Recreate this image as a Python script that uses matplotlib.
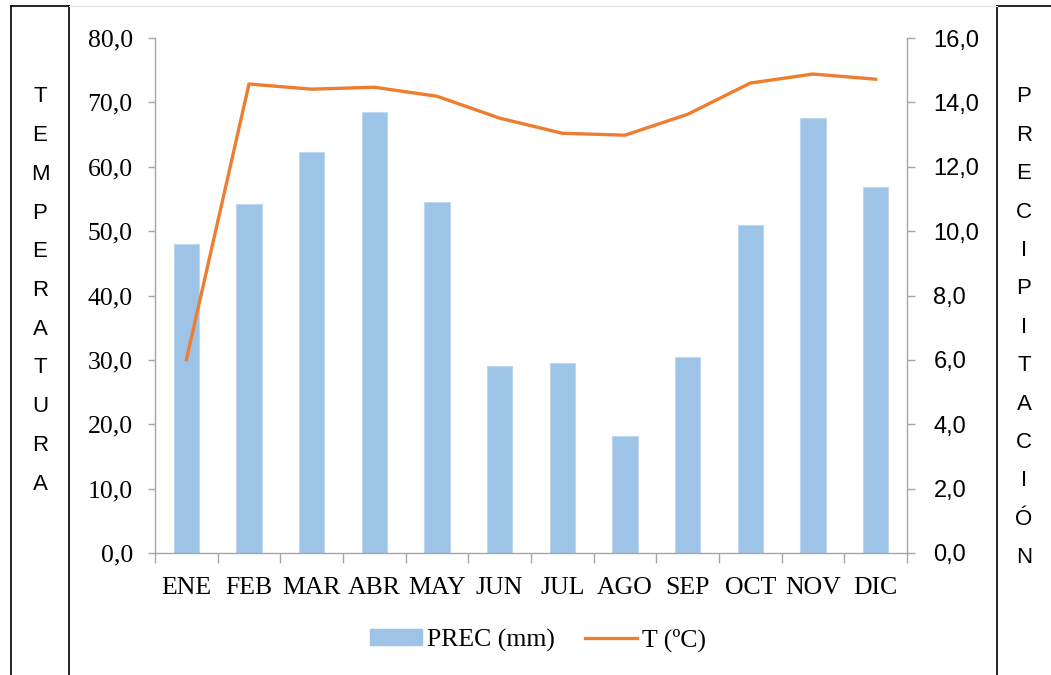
import numpy as np
import matplotlib
matplotlib.use("Agg")
import matplotlib.pyplot as plt
from matplotlib.lines import Line2D

meses = ["ENE", "FEB", "MAR", "ABR", "MAY", "JUN", "JUL", "AGO", "SEP", "OCT", "NOV", "DIC"]
prec = [48.0, 54.2, 62.3, 68.5, 54.5, 29.0, 29.5, 18.2, 30.4, 50.9, 67.5, 56.8]
temp = [6.0, 14.57, 14.41, 14.47, 14.19, 13.51, 13.04, 12.98, 13.63, 14.6, 14.88, 14.72]

azul = "#9DC3E6"
naranja = "#ED7D31"
gris = "#A6A6A6"
serif = "Liberation Serif"
sans = "Liberation Sans"

fig = plt.figure(figsize=(10.51, 6.75), dpi=100)
ax = fig.add_axes([155 / 1051, 1 - 553 / 675, (907 - 155) / 1051, (553 - 38) / 675])
ax2 = ax.twinx()

x = np.arange(len(meses))
ax.bar(x, prec, width=0.4, color=azul, edgecolor="#BDD7EE", linewidth=0.8, zorder=2)
ax2.plot(x, temp, color=naranja, linewidth=2.4, solid_joinstyle="round")

ax.set_xlim(-0.5, len(meses) - 0.5)
ax.set_ylim(0, 80)
ax2.set_ylim(0, 16)
ax.set_yticks(np.arange(0, 81, 10))
ax.set_yticklabels([f"{v:.1f}".replace(".", ",") for v in np.arange(0, 81, 10)],
                   fontfamily=serif, fontsize=18.5)
ax2.set_yticks(np.arange(0, 17, 2))
ax2.set_yticklabels([f"{v:.1f}".replace(".", ",") for v in np.arange(0, 17, 2)],
                    fontfamily=sans, fontsize=17)

ax.set_xticks(x)
ax.set_xticklabels(meses, fontfamily=serif, fontsize=18.5)
ax.set_xticks(np.arange(-0.5, len(meses), 1), minor=True)
ax.tick_params(axis="x", which="major", length=0, pad=17)
ax.tick_params(axis="x", which="minor", length=7, color=gris, width=1)
ax.tick_params(axis="y", length=5, color=gris, width=1, pad=11)
ax2.tick_params(axis="y", length=6, color=gris, width=1, pad=13)

for a in (ax, ax2):
    a.spines["top"].set_visible(False)
    for s in ("left", "right", "bottom"):
        a.spines[s].set_color(gris)
        a.spines[s].set_linewidth(1)
ax.spines["right"].set_visible(False)
ax2.spines["left"].set_visible(False)
ax2.spines["bottom"].set_visible(False)

handles = [plt.Rectangle((0, 0), 1, 1, color=azul),
           Line2D([0], [0], color=naranja, linewidth=2.4)]
fig.legend(handles, ["PREC (mm)", "T (ºC)"], loc="center", bbox_to_anchor=(0.512, 1 - 640 / 675),
           ncol=2, frameon=False, prop={"family": serif, "size": 18.5},
           handlelength=2.0, handleheight=0.6, columnspacing=1.2, handletextpad=0.2)

# cajas laterales con los títulos en vertical
caja = dict(color="black", linewidth=1.2)
fig.add_artist(Line2D([11 / 1051, 11 / 1051], [0, 1 - 6 / 675], **caja))
fig.add_artist(Line2D([69 / 1051, 69 / 1051], [0, 1 - 6 / 675], **caja))
fig.add_artist(Line2D([11 / 1051, 69 / 1051], [1 - 6 / 675, 1 - 6 / 675], **caja))
fig.add_artist(Line2D([997 / 1051, 997 / 1051], [0, 1 - 6 / 675], **caja))
fig.add_artist(Line2D([997 / 1051, 1], [1 - 6 / 675, 1 - 6 / 675], **caja))
fig.add_artist(Line2D([69 / 1051, 997 / 1051], [1 - 6 / 675, 1 - 6 / 675], color="#E0E0E0", linewidth=0.8))

for i, letra in enumerate("TEMPERATURA"):
    fig.text(40 / 1051, 1 - (97 + i * 38.7) / 675, letra, ha="center", va="center",
             fontfamily=sans, fontsize=16)
for i, letra in enumerate("PRECIPITACIÓN"):
    fig.text(1024 / 1051, 1 - (97 + i * 38.4) / 675, letra, ha="center", va="center",
             fontfamily=sans, fontsize=16)

fig.savefig("out.png", dpi=100)
